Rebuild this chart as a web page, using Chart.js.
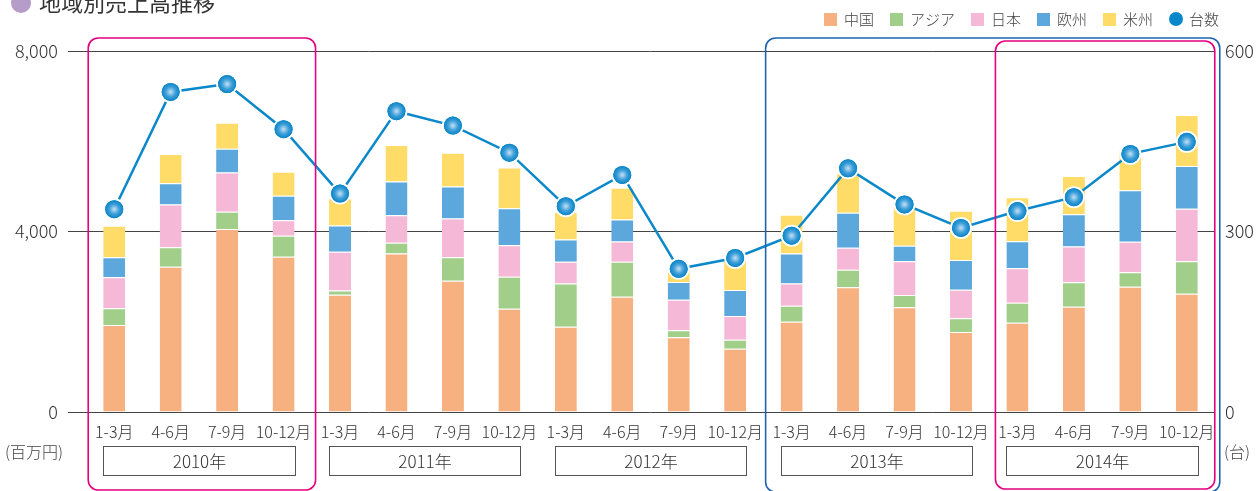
<!DOCTYPE html>
<html>
<head>
<meta charset="utf-8">
<script src="https://cdn.jsdelivr.net/npm/chart.js@4/dist/chart.umd.min.js"></script>
<style>
  html, body { margin: 0; padding: 0; background: #fff; }
  #wrap { width: 1256px; height: 491px; position: relative; }
</style>
</head>
<body>
<div id="wrap"><canvas id="grafico"></canvas></div>
<script>
const quarters = ['1-3月', '4-6月', '7-9月', '10-12月'];
const years = ['2010年', '2011年', '2012年', '2013年', '2014年'];
const labels = years.flatMap(() => quarters);

// 百万円
const china  = [1930, 3220, 4055, 3440, 2600, 3515, 2910, 2290, 1890, 2555, 1655, 1400, 2000, 2765, 2320, 1775, 1980, 2335, 2775, 2620];
const asia   = [ 370,  430,  385,  465,   95,  235,  520,  710,  955,  775,  155,  200,  355,  390,  275,  300,  440,  540,  320,  720];
const japan  = [ 685,  950,  870,  345,  855,  610,  860,  695,  485,  450,  680,  525,  495,  485,  745,  635,  765,  790,  680, 1165];
const europe = [ 445,  470,  525,  545,  585,  750,  705,  820,  495,  485,  390,  580,  660,  775,  345,  660,  600,  715, 1140,  945];
const america= [ 700,  645,  575,  530,  600,  805,  750,  905,  605,  705,  300,  665,  860,  875,  900, 1090,  975,  850,  890, 1130];
// 台
const units  = [ 337,  532,  545,  470,  363,  500,  476,  431,  342,  394,  238,  256,  293,  405,  345,  306,  334,  357,  429,  449];

const leftTicks = [0, 4000, 8000];
const rightTicks = [0, 300, 600];

const FONT = '"Noto Sans CJK JP", "Noto Sans", sans-serif';
const TEXT = '#333';
const LINE_BLUE = '#0a88ca';

const getCSSColor = (name) => ({
    china: '#f7b07f',
    asia: '#a1cf89',
    japan: '#f5b8d6',
    europe: '#5ca8dc',
    america: '#ffdc68'
})[name];

const barSet = (label, data, key) => ({
    type: 'bar',
    label: label,
    data: data,
    backgroundColor: getCSSColor(key),
    borderColor: '#ffffff',
    borderWidth: { top: 1, left: 0, right: 0, bottom: 0 },
    borderSkipped: false,
    barPercentage: 0.39,
    categoryPercentage: 1,
    yAxisID: 'y',
    order: 2
});

// boxes around year groups (category index ranges)
const highlights = [
    { from: 0, to: 3, color: '#e4007f', top: 38, bottom: 490, padL: 26, padR: 32 },
    { from: 12, to: 19, color: '#1d65b2', top: 38, bottom: 492, padL: 26, padR: 33 },
    { from: 16, to: 19, color: '#e4007f', top: 41, bottom: 489, padL: 22, padR: 28 }
];

const decoPlugin = {
    id: 'deco',
    afterDatasetsDraw(chart) {
        const ctx = chart.ctx;
        const meta = chart.getDatasetMeta(chart.data.datasets.length - 1);
        meta.data.forEach(pt => {
            const g = ctx.createRadialGradient(pt.x, pt.y, 0, pt.x, pt.y, 9);
            g.addColorStop(0, '#c6e0f4');
            g.addColorStop(0.55, '#3d9fd9');
            g.addColorStop(1, '#0a84c6');
            ctx.save();
            ctx.beginPath();
            ctx.arc(pt.x, pt.y, 9, 0, Math.PI * 2);
            ctx.fillStyle = g;
            ctx.fill();
            ctx.restore();
        });
    },
    afterDraw(chart) {
        const ctx = chart.ctx;
        const xs = chart.scales.x;
        const half = xs.getPixelForValue(1) - xs.getPixelForValue(0);
        const barW = half * 0.39;
        ctx.save();

        // title
        ctx.fillStyle = '#b59cc9';
        ctx.beginPath();
        ctx.arc(21, 3, 10, 0, Math.PI * 2);
        ctx.fill();
        ctx.fillStyle = '#333';
        ctx.font = '22px ' + FONT;
        ctx.textBaseline = 'middle';
        ctx.textAlign = 'left';
        ctx.fillText('地域別売上高推移', 39, 3);

        // legend
        ctx.font = '300 15px ' + FONT;
        let lx = 824;
        chart.data.datasets.forEach(ds => {
            if (ds.type === 'line') {
                ctx.fillStyle = LINE_BLUE;
                ctx.beginPath();
                ctx.arc(lx + 7, 19, 7, 0, Math.PI * 2);
                ctx.fill();
                lx += 14 + 6;
            } else {
                ctx.fillStyle = ds.backgroundColor;
                ctx.fillRect(lx, 13, 13, 13);
                lx += 13 + 7;
            }
            ctx.fillStyle = '#444';
            ctx.fillText(ds.label, lx, 19.5);
            lx += ctx.measureText(ds.label).width + 16;
        });

        // year boxes
        ctx.font = '300 17px ' + FONT;
        ctx.textAlign = 'center';
        ctx.strokeStyle = '#555';
        ctx.lineWidth = 1;
        years.forEach((yr, i) => {
            const l = Math.round(xs.getPixelForValue(i * 4) - barW / 2) + 0.5;
            const r = Math.round(xs.getPixelForValue(i * 4 + 3) + barW / 2) + 0.5;
            ctx.strokeRect(l, 446.5, r - l, 29);
            ctx.fillStyle = '#333';
            ctx.fillText(yr, (l + r) / 2, 461.5);
        });

        // unit labels
        ctx.font = '300 16px ' + FONT;
        ctx.textAlign = 'left';
        ctx.fillStyle = '#444';
        ctx.fillText('(百万円)', 5, 452);
        ctx.fillText('(台)', 1224, 452);

        // highlight rounded boxes
        ctx.lineWidth = 1.6;
        highlights.forEach(h => {
            const l = xs.getPixelForValue(h.from) - h.padL;
            const r = xs.getPixelForValue(h.to) + h.padR;
            ctx.strokeStyle = h.color;
            ctx.beginPath();
            ctx.roundRect(l, h.top, r - l, h.bottom - h.top, 10);
            ctx.stroke();
        });
        ctx.restore();
    }
};

const ctx1 = document.getElementById('grafico').getContext('2d');

const grafico = new Chart(ctx1, {
    data: {
        labels: labels,
        datasets: [
            barSet('中国', china, 'china'),
            barSet('アジア', asia, 'asia'),
            barSet('日本', japan, 'japan'),
            barSet('欧州', europe, 'europe'),
            barSet('米州', america, 'america'),
            {
                type: 'line',
                label: '台数',
                data: units,
                yAxisID: 'y1',
                borderColor: LINE_BLUE,
                borderWidth: 2.5,
                tension: 0,
                pointRadius: 10,
                pointBackgroundColor: LINE_BLUE,
                pointBorderColor: '#ffffff',
                pointBorderWidth: 2,
                order: 1
            }
        ]
    },
    options: {
        responsive: true,
        maintainAspectRatio: false,
        animation: false,
        layout: { padding: { top: 51, left: 0, right: 0, bottom: 0 } },
        plugins: {
            legend: { display: false },
            tooltip: { enabled: false }
        },
        scales: {
            x: {
                stacked: true,
                grid: { display: false },
                border: { display: false },
                ticks: {
                    color: TEXT,
                    font: { family: FONT, size: 16, weight: 300 },
                    padding: 2,
                    maxRotation: 0,
                    autoSkip: false
                },
                afterFit(s) { s.height = 79; }
            },
            y: {
                stacked: true,
                position: 'left',
                min: 0,
                max: 8000,
                afterBuildTicks(s) { s.ticks = leftTicks.map(v => ({ value: v })); },
                ticks: {
                    color: TEXT,
                    font: { family: FONT, size: 18, weight: 300 },
                    padding: 10,
                    callback: v => v.toLocaleString('en-US')
                },
                grid: { color: '#444', lineWidth: 1, tickLength: 18 },
                border: { display: false },
                afterFit(s) { s.width = 86; }
            },
            y1: {
                position: 'right',
                min: 0,
                max: 600,
                afterBuildTicks(s) { s.ticks = rightTicks.map(v => ({ value: v })); },
                ticks: {
                    color: TEXT,
                    font: { family: FONT, size: 18, weight: 300 },
                    padding: 2
                },
                grid: { display: false },
                border: { display: false },
                afterFit(s) { s.width = 41; }
            }
        }
    },
    plugins: [decoPlugin]
});
</script>
</body>
</html>
